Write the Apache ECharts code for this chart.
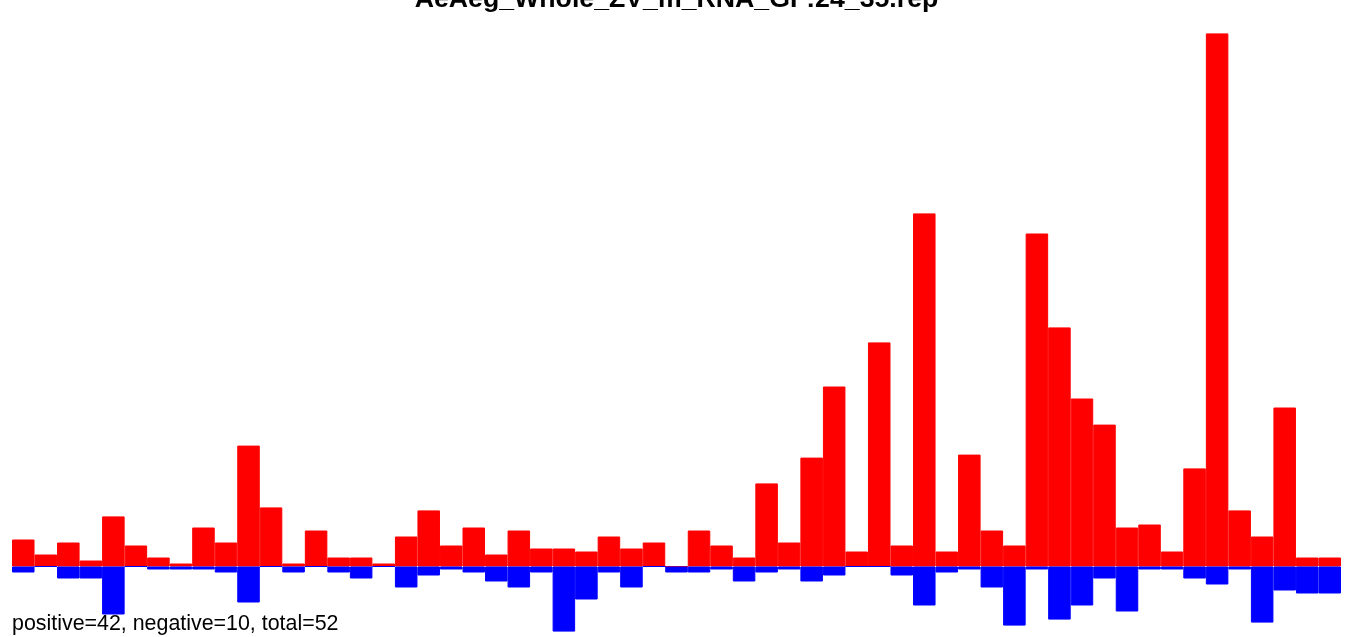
<!DOCTYPE html>
<html>
<head>
<meta charset="utf-8">
<script src="https://cdn.jsdelivr.net/npm/echarts@6/dist/echarts.min.js"></script>
<style>
html,body{margin:0;padding:0;background:#fff;}
#chart{width:1349px;height:637px;}
</style>
</head>
<body>
<div id="chart"></div>
<script>
const titleText = 'AeAeg_Whole_ZV_m_RNA_GF:24_35.rep';
const footerText = 'positive=42, negative=10, total=52';
const categories = ['1','2','3','4','5','6','7','8','9','10','11','12','13','14','15','16','17','18','19','20',
  '21','22','23','24','25','26','27','28','29','30','31','32','33','34','35','36','37','38','39','40',
  '41','42','43','44','45','46','47','48','49','50','51','52','53','54','55','56','57','58','59'];
const positiveValues = [9,4,8,2,16.7,7,3,1,13,8,40.3,19.7,1,12,3,3,1,10,18.7,7,
  13,4,12,6,6,5,10,6,8,0,12,7,3,27.7,8,36.3,60,5,74.7,7,
  117.7,5,37.3,12,7,111,79.7,56,47.3,13,14,5,32.7,177.7,18.7,10,53,3,3];
const negativeValues = [-2,0,-4,-4,-16,0,-1,-1,-1,-2,-12,0,-2,0,-2,-4,0,-7,-3,-1,
  -2,-5,-7,-2,-21.7,-11,-2,-7,0,-2,-2,-1,-5,-2,-1,-5,-3,0,0,-3,
  -13,-2,-1,-7,-19.7,-1,-17.7,-13,-4,-15,-1,-1,-4,-6,-1,-18.7,-8,-9,-9];

const chart = echarts.init(document.getElementById('chart'), null, {renderer:'canvas'});
chart.setOption({
  animation: false,
  backgroundColor: '#ffffff',
  grid: {left: 12, right: 8, top: 26.5, bottom: 1.5, containLabel: false},
  xAxis: {
    type: 'category', data: categories,
    axisLine: {show: false}, axisTick: {show: false}, axisLabel: {show: false}, splitLine: {show: false}
  },
  yAxis: {
    type: 'value', min: -23, max: 180,
    axisLine: {show: false}, axisTick: {show: false}, axisLabel: {show: false}, splitLine: {show: false}
  },
  series: [
    {type: 'bar', data: positiveValues, barCategoryGap: '0%', barGap: '-100%',
     itemStyle: {color: '#ff0000', borderColor: '#ff0000', borderWidth: 1}, silent: true},
    {type: 'bar', data: negativeValues, barCategoryGap: '0%', barGap: '-100%',
     itemStyle: {color: '#0000ff', borderColor: '#0000ff', borderWidth: 1}, silent: true}
  ],
  graphic: [
    {type: 'text', x: 676.5, y: 0, silent: true,
     style: {text: titleText, fill: '#000', textAlign: 'center', textVerticalAlign: 'middle',
             font: 'bold 26.7px "Liberation Sans", Arial, sans-serif'}},
    {type: 'text', x: 12, y: 624.5, silent: true,
     style: {text: footerText, fill: '#000', textAlign: 'left', textVerticalAlign: 'middle',
             font: '21.4px "Liberation Sans", Arial, sans-serif'}}
  ]
});
</script>
</body>
</html>
